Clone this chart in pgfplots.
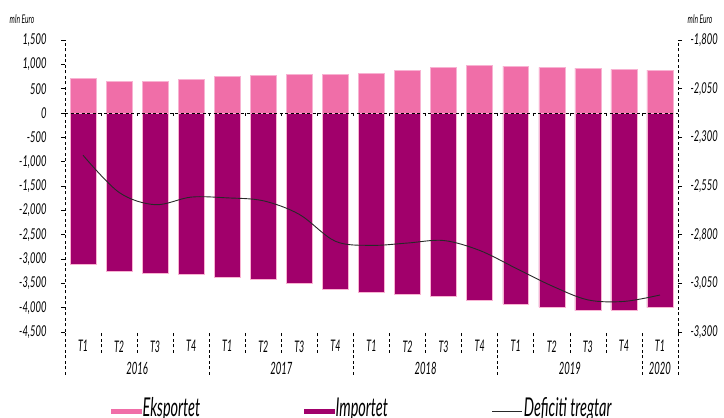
\documentclass[border=0pt]{standalone}
\usepackage{pgfplots}
\pgfplotsset{compat=1.18}
\usepackage{pgfplotstable}
\usepackage{fontspec}
\setmainfont{Lato}[FakeStretch=0.63]
\newfontfamily\cfn{Lato}[FakeStretch=0.56]
\definecolor{pinkE}{RGB}{240,110,168}
\definecolor{magI}{RGB}{161,0,107}
\definecolor{edgeC}{RGB}{248,178,210}
\definecolor{lineC}{RGB}{40,40,40}
\pgfplotstableread{
x exp imp def
0  713 -3107 -2392
1  657 -3244 -2583
2  650 -3300 -2646
3  698 -3312 -2607
4  760 -3374 -2611
5  780 -3415 -2626
6  795 -3497 -2696
7  787 -3620 -2834
8  821 -3682 -2855
9  883 -3731 -2843
10 938 -3772 -2830
11 979 -3854 -2881
12 965 -3929 -2972
13 938 -3990 -3063
14 924 -4059 -3135
15 897 -4045 -3143
16 883 -3998 -3110
}\data
\pgfplotsset{base/.style={at={(65bp,86bp)}, anchor=south west, scale only axis,
  width=613bp, height=292bp, xmin=-0.5, xmax=16.5}}
\newcommand{\yr}{\cfn\itshape\fontsize{17}{17}\selectfont}
\begin{document}
\begin{tikzpicture}
\useasboundingbox (0bp,0bp) rectangle (724bp,418bp);
% bottom category axis
\begin{axis}[base, ymin=-4500, ymax=1500, hide y axis, axis x line*=bottom,
  x axis line style={draw=none}, clip=false,
  xtick={-0.5,0.5,...,16.5}, x tick label as interval,
  xticklabels={T1,T2,T3,T4,T1,T2,T3,T4,T1,T2,T3,T4,T1,T2,T3,T4,T1},
  minor xtick={-0.5,3.5,7.5,11.5,15.5,16.5},
  tick align=outside, major tick length=21bp, minor tick length=43bp,
  xtick style={black, line width=0.6bp, dash pattern=on 3bp off 2.5bp},
  xticklabel style={font=\cfn\itshape\fontsize{16}{16}\selectfont, yshift=16bp}]
\node[font=\yr] at (axis cs:1.5,-4500) [yshift=-36bp] {2016};
\node[font=\yr] at (axis cs:5.5,-4500) [yshift=-36bp] {2017};
\node[font=\yr] at (axis cs:9.5,-4500) [yshift=-36bp] {2018};
\node[font=\yr] at (axis cs:13.5,-4500) [yshift=-36bp] {2019};
\node[font=\yr] at (axis cs:16,-4500) [yshift=-36bp] {2020};
\end{axis}
% bars with left axis
\begin{axis}[base, ymin=-4500, ymax=1500, axis y line*=left, hide x axis,
  y axis line style={black, line width=0.6bp, dash pattern=on 3bp off 2.5bp},
  ytick={-4500,-4000,...,1500}, tick align=outside, major tick length=4bp,
  ytick style={black, line width=0.6bp},
  yticklabel style={font=\itshape\fontsize{15}{15}\selectfont, xshift=-11bp},
  /pgf/number format/1000 sep={,}, /pgf/number format/assume math mode=true]
\addplot[ybar, bar width=0.72, bar shift=0pt, fill=pinkE, draw=edgeC, line width=0.5bp] table[x=x,y=exp]{\data};
\addplot[ybar, bar width=0.72, bar shift=0pt, fill=magI, draw=edgeC, line width=0.5bp] table[x=x,y=imp]{\data};
\end{axis}
% zero line
\begin{axis}[base, ymin=-4500, ymax=1500, hide y axis, axis x line*=middle,
  x axis line style={black, line width=0.7bp, dash pattern=on 3bp off 2.5bp},
  xtick={0.5,1.5,...,15.5}, xticklabels={}, tick align=outside, major tick length=3bp,
  xtick style={black, line width=0.6bp}]
\addplot[draw=none] coordinates {(0,0)};
\end{axis}
% right axis and deficit line
\begin{axis}[base, ymin=-3300, ymax=-1800, axis y line*=right, hide x axis,
  y axis line style={black, line width=0.6bp, dash pattern=on 3bp off 2.5bp},
  ytick={-3300,-3050,...,-1800}, tick align=outside, major tick length=4bp,
  ytick style={black, line width=0.6bp},
  yticklabel style={font=\itshape\fontsize{15}{15}\selectfont, xshift=5bp},
  /pgf/number format/1000 sep={,}, /pgf/number format/assume math mode=true,
  legend style={at={(0.075,-0.30)}, anchor=south west, draw=none, fill=none, inner sep=0pt,
    nodes={inner sep=1bp},
    font=\cfn\itshape\fontsize{26}{26}\selectfont, legend columns=3,
    /tikz/every even column/.append style={column sep=103bp}}]
\addlegendimage{legend image code/.code={\fill[pinkE] (0bp,-5bp) rectangle (30bp,-1bp);}}
\addlegendentry{Eksportet}
\addlegendimage{legend image code/.code={\fill[magI] (0bp,-5bp) rectangle (30bp,-1bp);}}
\addlegendentry{Importet}
\addplot[lineC, line width=0.9bp, smooth, tension=0.55,
  legend image code/.code={\draw[lineC, line width=0.9bp] (0bp,-3bp) -- (30bp,-3bp);}]
  table[x=x,y=def]{\data};
\addlegendentry{Deficiti tregtar}
\end{axis}
\node[font=\cfn\itshape\fontsize{12}{12}\selectfont] at (22bp,399bp) {mln Euro};
\node[font=\cfn\itshape\fontsize{12}{12}\selectfont] at (700bp,399bp) {mln Euro};
\end{tikzpicture}
\end{document}
